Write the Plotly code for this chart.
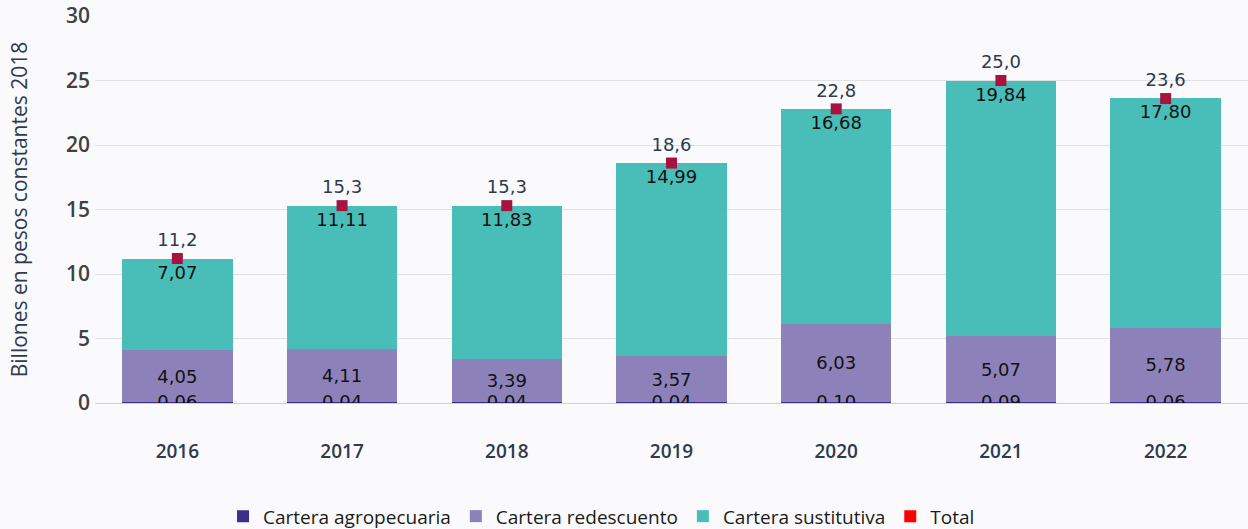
import plotly.graph_objects as go

years = ["2016", "2017", "2018", "2019", "2020", "2021", "2022"]
agro = [0.06, 0.04, 0.04, 0.04, 0.10, 0.09, 0.06]
redesc = [4.05, 4.11, 3.39, 3.57, 6.03, 5.07, 5.78]
sust = [7.07, 11.11, 11.83, 14.99, 16.68, 19.84, 17.80]
total = [11.2, 15.3, 15.3, 18.6, 22.8, 25.0, 23.6]

FONT = "Open Sans"
NUM = "DejaVu Sans"
lab_font = dict(family=NUM, size=18, color="#111111")

fig = go.Figure()
fig.add_bar(x=years, y=agro, name="Cartera agropecuaria", marker_color="#3b2f8c",
            marker_line_width=0, hoverinfo="y")
fig.add_bar(x=years, y=redesc, name="Cartera redescuento", marker_color="#8c82b9",
            marker_line_width=0, texttemplate="%{y:.2f}", textposition="inside",
            insidetextanchor="middle", textfont=lab_font, constraintext="none")
fig.add_bar(x=years, y=sust, name="Cartera sustitutiva", marker_color="#49bdb8",
            marker_line_width=0, texttemplate="%{y:.2f}", textposition="inside",
            insidetextanchor="end", textfont=lab_font, constraintext="none")
# agro labels (segment too thin for inside text)
fig.add_scatter(x=years, y=[0]*len(years), mode="text", text=[f"{v:.2f}".replace(".", ",") for v in agro],
                textposition="middle center", textfont=lab_font, showlegend=False, hoverinfo="skip")
fig.add_scatter(x=years, y=total, mode="markers+text", name="Total", showlegend=False,
                marker=dict(symbol="square", size=11, color="#a8123e"),
                text=[f"{v:.1f}".replace(".", ",") for v in total], textposition="top center",
                textfont=dict(family=NUM, size=18, color="#2d3a4f"))
fig.add_scatter(x=[None], y=[None], mode="markers", name="Total",
                marker=dict(symbol="square", size=12, color="#ff0000"))

fig.update_layout(
    barmode="stack", bargap=0.33, separators=",.",
    width=1248, height=529,
    paper_bgcolor="#fafafc", plot_bgcolor="#fafafc",
    margin=dict(l=95, r=0, t=16, b=126, autoexpand=False),
    font=dict(family=FONT, color="#2d3a4f"),
    legend=dict(orientation="h", xref="container", x=0.482, xanchor="center",
                yref="container", y=0.024, yanchor="middle",
                font=dict(family=FONT, size=19, color="#1a1a1a"), traceorder="normal",
                itemwidth=30, tracegroupgap=0),
    showlegend=True,
)
fig.update_xaxes(type="category", showline=False, showgrid=False, ticks="",
                 tickfont=dict(family=FONT, size=19, color="#2d3a4f", weight=600),
                 ticklabelstandoff=35)
fig.update_yaxes(range=[0, 30], dtick=5, showgrid=True, gridcolor="#e1e1e4", gridwidth=1,
                 zeroline=True, zerolinecolor="#cfcfd4", zerolinewidth=1,
                 tickfont=dict(family=FONT, size=21, color="#404040", weight=600),
                 title=dict(text="Billones en pesos constantes 2018",
                            font=dict(family=FONT, size=21, color="#2d3a4f"), standoff=32),
                 ticklabelstandoff=4)

fig.write_html("out.html", config={"displayModeBar": False},
               post_script="document.body.style.margin='0';document.body.style.background='#fafafc';")
